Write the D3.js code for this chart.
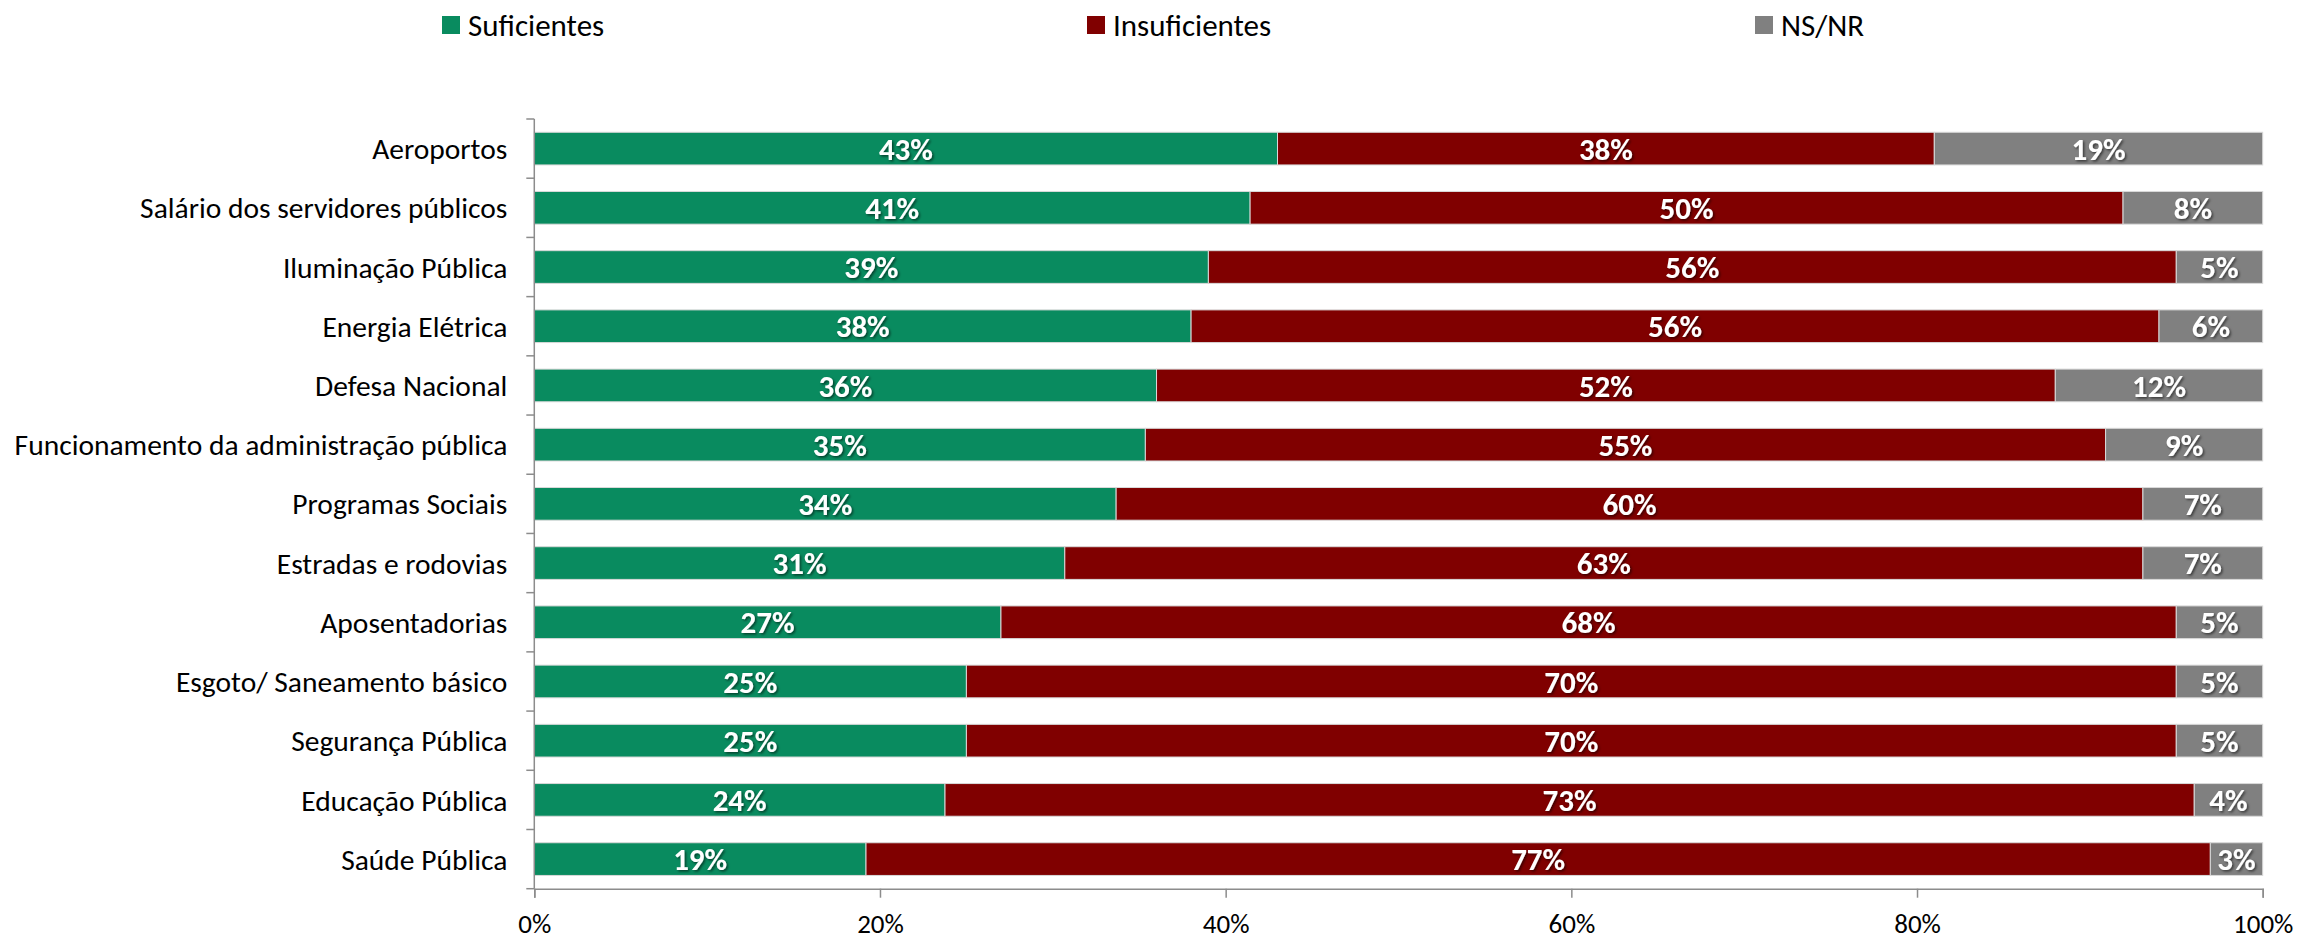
<!DOCTYPE html>
<html>
<head>
<meta charset="utf-8">
<script src="https://cdn.jsdelivr.net/npm/d3@7"></script>
<style>
  body { margin: 0; background: #fff; }
  svg { display: block; font-family: Carlito, Calibri, Lato, sans-serif; }
</style>
</head>
<body>
<div id="chart"></div>
<script>
// Categories, top to bottom
const categories = [
  'Aeroportos',
  'Salário dos servidores públicos',
  'Iluminação Pública',
  'Energia Elétrica',
  'Defesa Nacional',
  'Funcionamento da administração pública',
  'Programas Sociais',
  'Estradas e rodovias',
  'Aposentadorias',
  'Esgoto/ Saneamento básico',
  'Segurança Pública',
  'Educação Pública',
  'Saúde Pública'
];

// Series values (%), as labelled
const suficientes   = [43, 41, 39, 38, 36, 35, 34, 31, 27, 25, 25, 24, 19];
const insuficientes = [38, 50, 56, 56, 52, 55, 60, 63, 68, 70, 70, 73, 77];
const nsnr          = [19,  8,  5,  6, 12,  9,  7,  7,  5,  5,  5,  4,  3];

const seriesNames = ['Suficientes', 'Insuficientes', 'NS/NR'];
const seriesColors = ['#098b5f', '#800000', '#808080'];
const xTicks = [0, 0.2, 0.4, 0.6, 0.8, 1];

const W = 2303, H = 944;
const plot = { left: 534.3, right: 2262.7, top: 119, bottom: 888.7 };

const rows = categories.map((c, i) => ({
  category: c,
  Suficientes: suficientes[i],
  Insuficientes: insuficientes[i],
  'NS/NR': nsnr[i]
}));

// 100% stacked: each row normalised by its own total
const stacked = d3.stack()
  .keys(seriesNames)
  .offset(d3.stackOffsetExpand)(rows);

const x = d3.scaleLinear()
  .domain([0, 1])
  .range([plot.left, plot.right]);

const pad = 0.448;
const y = d3.scaleBand()
  .domain(categories)
  .range([plot.top, plot.bottom])
  .paddingInner(pad)
  .paddingOuter(pad / 2);

const color = d3.scaleOrdinal()
  .domain(seriesNames)
  .range(seriesColors);

const svg = d3.select('#chart')
  .append('svg')
  .attr('width', W)
  .attr('height', H);

// Soft shadow under the value labels
const defs = svg.append('defs');
defs.append('filter')
  .attr('id', 'shadow')
  .attr('x', '-20%').attr('y', '-20%')
  .attr('width', '140%').attr('height', '140%')
  .append('feDropShadow')
  .attr('dx', 1.5)
  .attr('dy', 1.5)
  .attr('stdDeviation', 1)
  .attr('flood-color', '#000')
  .attr('flood-opacity', 0.55);

// Bars
const layer = svg.selectAll('.series')
  .data(stacked)
  .enter()
  .append('g')
  .attr('class', 'series')
  .attr('fill', d => color(d.key));

layer.selectAll('rect')
  .data(d => d)
  .enter()
  .append('rect')
  .attr('x', d => x(d[0]))
  .attr('y', d => y(d.data.category))
  .attr('width', d => x(d[1]) - x(d[0]))
  .attr('height', y.bandwidth())
  .attr('stroke', '#d9d9d9')
  .attr('stroke-width', 1);

// Value labels
layer.selectAll('text')
  .data(d => d.map(v => ({ v, key: d.key })))
  .enter()
  .append('text')
  .attr('x', d => (x(d.v[0]) + x(d.v[1])) / 2)
  .attr('y', d => y(d.v.data.category) + y.bandwidth() / 2)
  .attr('dy', '0.36em')
  .attr('text-anchor', 'middle')
  .attr('fill', '#fff')
  .attr('filter', 'url(#shadow)')
  .style('font-size', '31px')
  .style('font-weight', 'bold')
  .text(d => `${d.v.data[d.key]}%`);

// Y axis: line, ticks between categories, labels
const yAxis = svg.append('g').attr('class', 'y-axis');
yAxis.append('line')
  .attr('x1', plot.left).attr('x2', plot.left)
  .attr('y1', plot.top).attr('y2', plot.bottom)
  .attr('stroke', '#8c8c8c')
  .attr('stroke-width', 1.5);

yAxis.selectAll('.tick')
  .data(d3.range(categories.length + 1))
  .enter()
  .append('line')
  .attr('class', 'tick')
  .attr('x1', plot.left - 8).attr('x2', plot.left)
  .attr('y1', i => plot.top + i * y.step())
  .attr('y2', i => plot.top + i * y.step())
  .attr('stroke', '#8c8c8c')
  .attr('stroke-width', 1.5);

yAxis.selectAll('.label')
  .data(categories)
  .enter()
  .append('text')
  .attr('class', 'label')
  .attr('x', plot.left - 27)
  .attr('y', d => y(d) + y.bandwidth() / 2)
  .attr('dy', '0.36em')
  .attr('text-anchor', 'end')
  .attr('fill', '#000')
  .style('font-size', '29.5px')
  .text(d => d);

// X axis
const xAxis = svg.append('g')
  .attr('transform', `translate(0,${plot.bottom})`)
  .call(d3.axisBottom(x)
    .tickValues(xTicks)
    .tickFormat(d3.format('.0%'))
    .tickSize(9)
    .tickPadding(16));

xAxis.select('.domain')
  .attr('stroke', '#8c8c8c')
  .attr('stroke-width', 1.5);
xAxis.selectAll('.tick line')
  .attr('stroke', '#8c8c8c')
  .attr('stroke-width', 1.5);
xAxis.selectAll('.tick text')
  .attr('fill', '#000')
  .style('font-family', 'Carlito, Calibri, Lato, sans-serif')
  .style('font-size', '27px');

// Legend
const legendX = [442, 1087, 1755];
const legend = svg.selectAll('.legend-item')
  .data(seriesNames)
  .enter()
  .append('g')
  .attr('class', 'legend-item')
  .attr('transform', (d, i) => `translate(${legendX[i]}, 16)`);

legend.append('rect')
  .attr('width', 18)
  .attr('height', 18)
  .attr('fill', d => color(d));

legend.append('text')
  .attr('x', 26)
  .attr('y', 9)
  .attr('dy', '0.36em')
  .attr('fill', '#000')
  .style('font-size', '31px')
  .text(d => d);
</script>
</body>
</html>
